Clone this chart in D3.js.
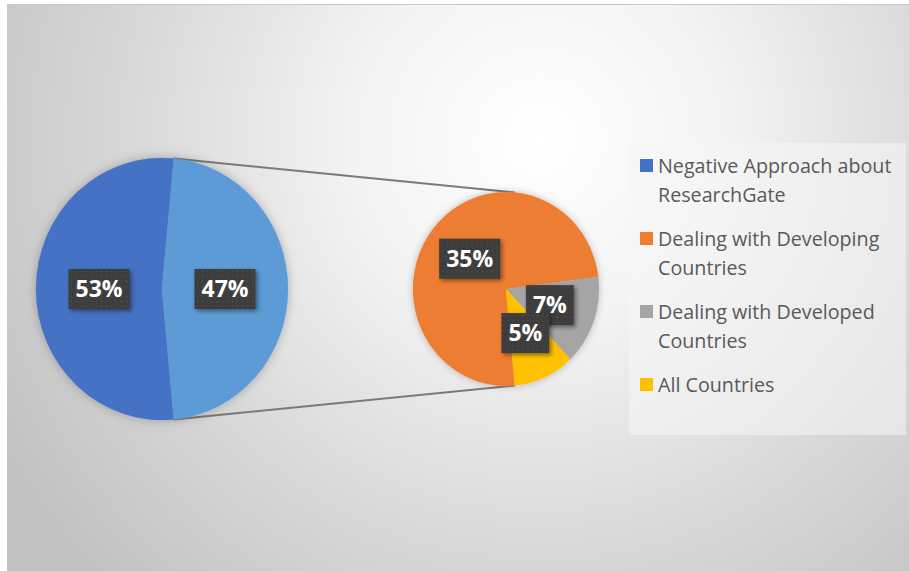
<!DOCTYPE html>
<html>
<head>
<meta charset="utf-8">
<script src="https://cdn.jsdelivr.net/npm/d3@7"></script>
<style>
  html, body { margin: 0; padding: 0; background: #ffffff; }
  svg { display: block; }
</style>
</head>
<body>
<svg id="grafico"></svg>
<script>
// datos del grafico
var categorias = ["Negative Approach about ResearchGate", "Dealing with Developing Countries", "Dealing with Developed Countries", "All Countries"];
var valores = [53, 35, 7, 5];
var colores = ["#4472C4", "#ED7D31", "#A5A5A5", "#FFC000"];
var lineasLeyenda = [["Negative Approach about", "ResearchGate"], ["Dealing with Developing", "Countries"], ["Dealing with Developed", "Countries"], ["All Countries"]];
var colorOtros = "#5B9BD5";

var anchura = 909, altura = 571;

var svg = d3.select("#grafico")
    .attr("width", anchura)
    .attr("height", altura);

var defs = svg.append("defs");

// fondo con degradado radial
var grad = defs.append("radialGradient")
    .attr("id", "fondo")
    .attr("gradientUnits", "userSpaceOnUse")
    .attr("cx", 540).attr("cy", 140).attr("r", 620);
grad.append("stop").attr("offset", "0").attr("stop-color", "#ffffff");
grad.append("stop").attr("offset", "0.3").attr("stop-color", "#f3f3f3");
grad.append("stop").attr("offset", "0.65").attr("stop-color", "#d9d9d9");
grad.append("stop").attr("offset", "1").attr("stop-color", "#c2c2c2");

// patron de puntos de las etiquetas
var patron = defs.append("pattern")
    .attr("id", "puntos")
    .attr("patternUnits", "userSpaceOnUse")
    .attr("width", 5).attr("height", 5);
patron.append("rect").attr("width", 5).attr("height", 5).attr("fill", "#3c3c3c");
patron.append("circle").attr("cx", 2.5).attr("cy", 2.5).attr("r", 0.8).attr("fill", "#4f4f4f");

var sombra = defs.append("filter").attr("id", "sombra")
    .attr("x", "-20%").attr("y", "-20%").attr("width", "150%").attr("height", "150%");
sombra.append("feDropShadow").attr("dx", 2).attr("dy", 2).attr("stdDeviation", 2)
    .attr("flood-color", "#000").attr("flood-opacity", 0.45);

var sombraTarta = defs.append("filter").attr("id", "sombraTarta")
    .attr("x", "-20%").attr("y", "-20%").attr("width", "140%").attr("height", "140%");
sombraTarta.append("feDropShadow").attr("dx", 0).attr("dy", 0).attr("stdDeviation", 4)
    .attr("flood-color", "#000").attr("flood-opacity", 0.25);

svg.append("rect")
    .attr("x", 7).attr("y", 4)
    .attr("width", anchura - 7).attr("height", altura - 4)
    .attr("fill", "url(#fondo)");
svg.append("line")
    .attr("x1", 7).attr("x2", anchura).attr("y1", 4.5).attr("y2", 4.5)
    .attr("stroke", "#c8c8c8").attr("stroke-width", 1);

// tartas (principal y secundaria)
var total = d3.sum(valores);
var otros = d3.sum(valores.slice(1));
var inicio = Math.PI / 2 + Math.PI * (otros / total);

var principal = { cx: 162, cy: 289, rx: 126, ry: 131 };
var secundaria = { cx: 506, cy: 289, rx: 93, ry: 97 };

var datosPrincipal = [
    { nombre: categorias[0], valor: valores[0], color: colores[0] },
    { nombre: "Other", valor: otros, color: colorOtros }
];
var datosSecundaria = categorias.slice(1).map(function (c, i) {
    return { nombre: c, valor: valores[i + 1], color: colores[i + 1] };
});

var tarta = d3.pie()
    .sort(null)
    .value(function (d) { return d.valor; })
    .startAngle(inicio)
    .endAngle(inicio + 2 * Math.PI);

function punto(p, ang) {
    return [p.cx + p.rx * Math.sin(ang), p.cy - p.ry * Math.cos(ang)];
}

// lineas de conexion
var angOtros = tarta(datosPrincipal)[1];
[angOtros.startAngle, angOtros.endAngle].forEach(function (a) {
    var p1 = punto(principal, a), p2 = punto(secundaria, a);
    svg.append("line")
        .attr("x1", p1[0]).attr("y1", p1[1])
        .attr("x2", p2[0]).attr("y2", p2[1])
        .attr("stroke", "#7a7a7a").attr("stroke-width", 2);
});

function dibujarTarta(p, datos) {
    var arc = d3.arc().innerRadius(0).outerRadius(100);
    var g = svg.append("g")
        .attr("transform", "translate(" + p.cx + "," + p.cy + ") scale(" + p.rx / 100 + "," + p.ry / 100 + ")")
        .attr("filter", "url(#sombraTarta)");
    var arcos = tarta(datos);
    g.selectAll("path")
        .data(arcos)
        .join("path")
        .attr("d", arc)
        .attr("fill", function (d) { return d.data.color; })
        .attr("stroke", function (d) { return d.data.color; })
        .attr("stroke-width", 0.3);

    // etiquetas de porcentaje
    arcos.forEach(function (d) {
        var c = arc.centroid(d);
        var x = p.cx + c[0] * p.rx / 100, y = p.cy + c[1] * p.ry / 100;
        var et = svg.append("g").attr("transform", "translate(" + x + "," + y + ")");
        var caja = et.append("rect").attr("fill", "url(#puntos)").attr("filter", "url(#sombra)");
        var t = et.append("text")
            .attr("text-anchor", "middle")
            .attr("dy", "0.36em")
            .style("font", "bold 23px 'Open Sans', sans-serif")
            .attr("fill", "#ffffff")
            .text(Math.round(d.data.valor / total * 100) + "%");
        var w = t.node().getComputedTextLength() + 14;
        caja.attr("x", -w / 2).attr("y", -20).attr("width", w).attr("height", 40);
    });
}

dibujarTarta(principal, datosPrincipal);
dibujarTarta(secundaria, datosSecundaria);

// leyenda
svg.append("rect")
    .attr("x", 629).attr("y", 143)
    .attr("width", 277).attr("height", 292)
    .attr("fill", "#f6f6f6").attr("opacity", 0.55);

var leyenda = svg.append("g").attr("transform", "translate(640,173)");
var item = leyenda.selectAll("g")
    .data(lineasLeyenda)
    .join("g")
    .attr("transform", function (d, i) { return "translate(0," + (i * 73) + ")"; });
item.append("rect")
    .attr("x", 0).attr("y", -14)
    .attr("width", 13).attr("height", 13)
    .attr("fill", function (d, i) { return colores[i]; });
item.append("text")
    .attr("x", 18)
    .attr("fill", "#595959")
    .style("font", "19.7px 'Open Sans', sans-serif")
    .selectAll("tspan")
    .data(function (d) { return d; })
    .join("tspan")
    .attr("x", 18)
    .attr("dy", function (d, i) { return i === 0 ? 0 : 29; })
    .text(function (d) { return d; });
</script>
</body>
</html>
